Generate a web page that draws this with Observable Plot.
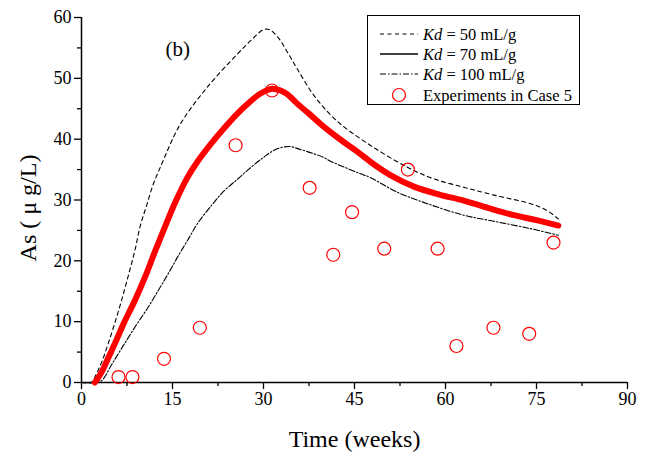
<!DOCTYPE html>
<html>
<head>
<meta charset="utf-8">
<script src="https://cdn.jsdelivr.net/npm/d3@7"></script>
<script src="https://cdn.jsdelivr.net/npm/@observablehq/plot@0.6"></script>
<style>
  html, body { margin: 0; padding: 0; background: #fff; }
  #chart { position: relative; width: 645px; height: 461px; }
</style>
</head>
<body>
<div id="chart"></div>
<script>
// ---- Data ----
const xTicks = [0, 15, 30, 45, 60, 75, 90];
const xMinor = [7.5, 22.5, 37.5, 52.5, 67.5, 82.5];
const yTicks = [0, 10, 20, 30, 40, 50, 60];
const yMinor = [5, 15, 25, 35, 45, 55];

// Kd = 50 mL/g (dashed)
const t50 = [0, 1.6, 2.5, 3.5, 4.4, 5.5, 6.6, 7.7, 8.8, 9.7, 10.7, 11.8, 13, 16.3, 20.7, 25.7, 28, 30, 31, 32.5, 34, 35.6, 38.3, 42.1, 47.6, 53.7, 58, 63, 68, 74, 76.5, 78.6];
const as50 = [0, 0, 1.5, 3.8, 6.4, 9.8, 13.5, 17.5, 21.7, 25.8, 29, 32.5, 35.4, 42.5, 48.5, 54, 56.3, 58.0, 58.0, 56.6, 54.2, 51.5, 47.2, 43.0, 39, 35.4, 33.5, 32.1, 30.8, 29.4, 28.4, 26.9];

// Kd = 70 mL/g (solid, drawn in red thick)
const t70 = [0, 1.5, 2.2, 3.2, 4.3, 5.5, 7, 8.8, 10.5, 12.1, 13.6, 15.4, 17.4, 19.1, 21.3, 23.5, 25.7, 27.5, 29.5, 31.4, 32.8, 33.9, 35.6, 37.5, 39.4, 41, 43, 45.4, 48, 50.9, 54.8, 59, 63, 67, 71.3, 75, 78.6];
const as70 = [0, 0, 0, 1.5, 3.8, 6.4, 9.8, 13.5, 17.4, 21.5, 25.2, 29.5, 33.6, 36.3, 39.2, 41.8, 44.2, 45.9, 47.5, 48.3, 48, 47.4, 45.8, 44.2, 42.5, 41.2, 39.7, 38.0, 36.0, 34.1, 32.2, 30.9, 29.9, 28.7, 27.5, 26.7, 25.8];

// Kd = 100 mL/g (dash-dot)
const t100 = [0, 2, 3.3, 5, 7.1, 9, 11, 12.7, 14.3, 16, 17.8, 19.1, 21.5, 23.5, 25.7, 27.5, 30, 32, 34.2, 36.1, 38.3, 39.9, 41, 43.8, 46, 47.6, 52, 57, 63, 68, 74, 78.6];
const as100 = [0, 0, 0.3, 3, 6.4, 9.4, 12.4, 15.2, 17.9, 20.9, 23.9, 26.1, 29.2, 31.5, 33.4, 35, 37, 38.3, 38.8, 38.3, 37.6, 37, 36.4, 35.2, 34.3, 33.7, 31.3, 29.4, 27.5, 26.5, 25.3, 24.2];

// Experiments in Case 5
const expT  = [6.1, 8.4, 13.6, 19.5, 25.4, 31.4, 37.6, 41.5, 44.6, 49.9, 53.8, 58.7, 61.8, 67.9, 73.8, 77.8];
const expAs = [0.9, 0.9, 3.9, 9.0, 39, 48, 32, 21, 28, 22, 35, 22, 6, 9, 8, 23];

const legendLabels = ["= 50 mL/g", "= 70 mL/g", "= 100 mL/g", "Experiments in Case 5"];

const toRows = (ts, ys) => ts.map((t, i) => ({t, v: ys[i]}));
const d50 = toRows(t50, as50);
const d70 = toRows(t70, as70);
const d100 = toRows(t100, as100);
const dExp = toRows(expT, expAs);

const FONT = "'Liberation Serif', 'Times New Roman', serif";
const DASH = "4 3.5";
const DASHDOT = "6 2 1.5 2";

const chart = Plot.plot({
  width: 645,
  height: 461,
  marginLeft: 81,
  marginRight: 18,
  marginTop: 17,
  marginBottom: 79,
  x: {domain: [0, 90]},
  y: {domain: [0, 60]},
  style: {fontFamily: FONT, fontSize: "18px", color: "black", background: "white", overflow: "visible"},
  marks: [
    Plot.axisX({ticks: xTicks, tickSize: 7, tickPadding: 3, label: null, fontSize: 18, tickFormat: d => d, strokeWidth: 1.3}),
    Plot.axisX({ticks: xMinor, tickSize: 4, label: null, tickFormat: () => "", strokeWidth: 1.3}),
    Plot.axisY({ticks: yTicks, tickSize: 7, tickPadding: 3, label: null, fontSize: 18, tickFormat: d => d, strokeWidth: 1.3}),
    Plot.axisY({ticks: yMinor, tickSize: 4, label: null, tickFormat: () => "", strokeWidth: 1.3}),
    Plot.ruleX([0], {stroke: "black", strokeWidth: 1.5}),
    Plot.ruleY([0], {stroke: "black", strokeWidth: 1.5}),
    Plot.line(d50, {x: "t", y: "v", stroke: "black", strokeWidth: 1.1, strokeDasharray: DASH, curve: "catmull-rom"}),
    Plot.line(d100, {x: "t", y: "v", stroke: "black", strokeWidth: 1.1, strokeDasharray: DASHDOT, curve: "catmull-rom"}),
    Plot.line(d70, {x: "t", y: "v", stroke: "black", strokeWidth: 1.2, curve: "catmull-rom"}),
    Plot.line(d70.filter(d => d.t >= 2.2), {x: "t", y: "v", stroke: "#ff0000", strokeWidth: 6, curve: "catmull-rom"}),
    Plot.dot(dExp, {x: "t", y: "v", r: 6.5, stroke: "#ff0000", strokeWidth: 1.2, fill: "none"}),
    Plot.text(["(b)"], {frameAnchor: "top-left", dx: 84, dy: 32, lineAnchor: "middle", textAnchor: "start", fontSize: 21}),
    Plot.text(["Time (weeks)"], {frameAnchor: "bottom", dy: 57, lineAnchor: "middle", fontSize: 24}),
    Plot.text(["As ( μ g/L)"], {frameAnchor: "left", dx: -53, dy: 8, rotate: -90, lineAnchor: "middle", textAnchor: "middle", fontSize: 24})
  ]
});

document.getElementById("chart").appendChild(chart);

// ---- Legend (inside the plot area, top right) ----
const svg = d3.select(chart);
const lg = svg.append("g").attr("font-family", FONT).attr("font-size", 16.5).attr("text-anchor", "start");
lg.append("rect").attr("x", 367.5).attr("y", 15.5).attr("width", 212).attr("height", 89)
  .attr("fill", "white").attr("stroke", "black").attr("stroke-width", 1);
const rowY = [34, 54, 74, 95];
const dashes = [DASH, null, DASHDOT];
for (let i = 0; i < 3; i++) {
  const ln = lg.append("line").attr("x1", 380).attr("x2", 418).attr("y1", rowY[i]).attr("y2", rowY[i])
    .attr("stroke", "black").attr("stroke-width", i === 1 ? 1.4 : 1.1);
  if (dashes[i]) ln.attr("stroke-dasharray", dashes[i]);
  const tx = lg.append("text").attr("x", 423).attr("y", rowY[i]).attr("dy", "0.35em").attr("text-anchor", "start");
  tx.append("tspan").attr("font-style", "italic").text("Kd");
  tx.append("tspan").text(" " + legendLabels[i]);
}
lg.append("circle").attr("cx", 399).attr("cy", rowY[3]).attr("r", 6.5)
  .attr("fill", "none").attr("stroke", "#ff0000").attr("stroke-width", 1.2);
lg.append("text").attr("x", 423).attr("y", rowY[3]).attr("dy", "0.35em").attr("text-anchor", "start").text(legendLabels[3]);
</script>
</body>
</html>
